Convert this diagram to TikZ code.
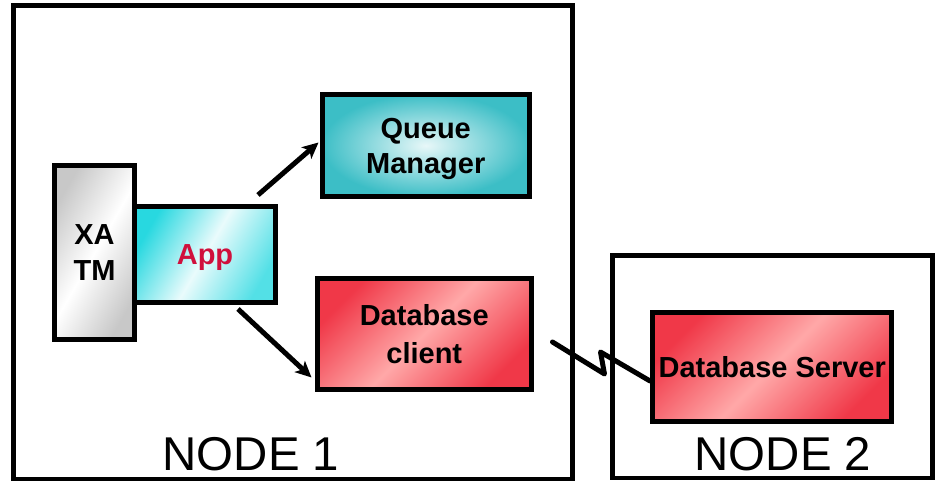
\documentclass[tikz,border=0pt]{standalone}
\usepackage{fontspec}
\setmainfont{Liberation Sans}
\usetikzlibrary{arrows.meta,calc}
\definecolor{tmgray}{HTML}{C8C8C8}
\definecolor{appcyan}{HTML}{28D8E0}
\definecolor{qmteal}{HTML}{3CBEC6}
\definecolor{dbred}{HTML}{F03848}
\definecolor{dbpink}{HTML}{FFA8A8}
\definecolor{apptext}{HTML}{D0103C}
\tikzset{
  frame/.style={draw,line width=0.1cm},
  box/.style={draw,line width=0.1cm,inner sep=0pt,align=center,text depth=0pt,
    font=\bfseries\fontsize{16.5}{20}\selectfont},
  dbbox/.style={box,left color=dbred,right color=dbred,middle color=dbpink,shading angle=45},
  arr/.style={line width=0.1cm,-{Stealth[length=0.32cm,width=0.3cm,inset=0.08cm]}},
  bolt/.style={line width=0.1cm,line cap=round,line join=round},
  nodelabel/.style={anchor=base,font=\fontsize{27}{30}\selectfont}
}
\begin{document}
\begin{tikzpicture}[x=0.02cm,y=-0.02cm]
\useasboundingbox (0,0) rectangle (936,482);
% the two machines
\draw[frame] (13.5,5.5) rectangle (572,479);
\draw[frame] (612,256) rectangle (932,478);
\node[nodelabel] (n1) at (251,471) {NODE 1};
\node[nodelabel] (n2) at (783,471) {NODE 2};
% node 1
\node[box,minimum width=1.6cm,minimum height=3.48cm,
  left color=tmgray,right color=tmgray,middle color=white,shading angle=60] (xatm) at (94.5,252.5) {XA\\TM};
\node[box,minimum width=2.82cm,minimum height=1.92cm,text=apptext,
  left color=appcyan,right color=appcyan!80,middle color=appcyan!10,shading angle=60] (app) at (205,254.5) {App};
\node[box,minimum width=4.15cm,minimum height=2.06cm,
  inner color=qmteal!12,outer color=qmteal] (qm) at (425.75,145.5) {Queue\\Manager};
\node[dbbox,minimum width=4.29cm,minimum height=2.24cm,
  font=\bfseries\fontsize{16.5}{22}\selectfont] (client) at (424.25,334) {Database\\client};
% node 2
\node[dbbox,minimum width=4.79cm,minimum height=2.2cm] (server) at (772.25,367) {Database Server};
% connections
\draw[arr] ($(app.north east)+(-20,-9)$) -- ($(qm.west)+(-1,-3)$);
\draw[arr] ($(app.south east)+(-40,4)$) -- ($(client.south west)+(-3,-15)$);
\draw[bolt] ($(client.east)+(18.5,8)$) -- ++(52,32) -- ++(-4,-22) -- ($(server.west)+(0,14)$);
\end{tikzpicture}
\end{document}
